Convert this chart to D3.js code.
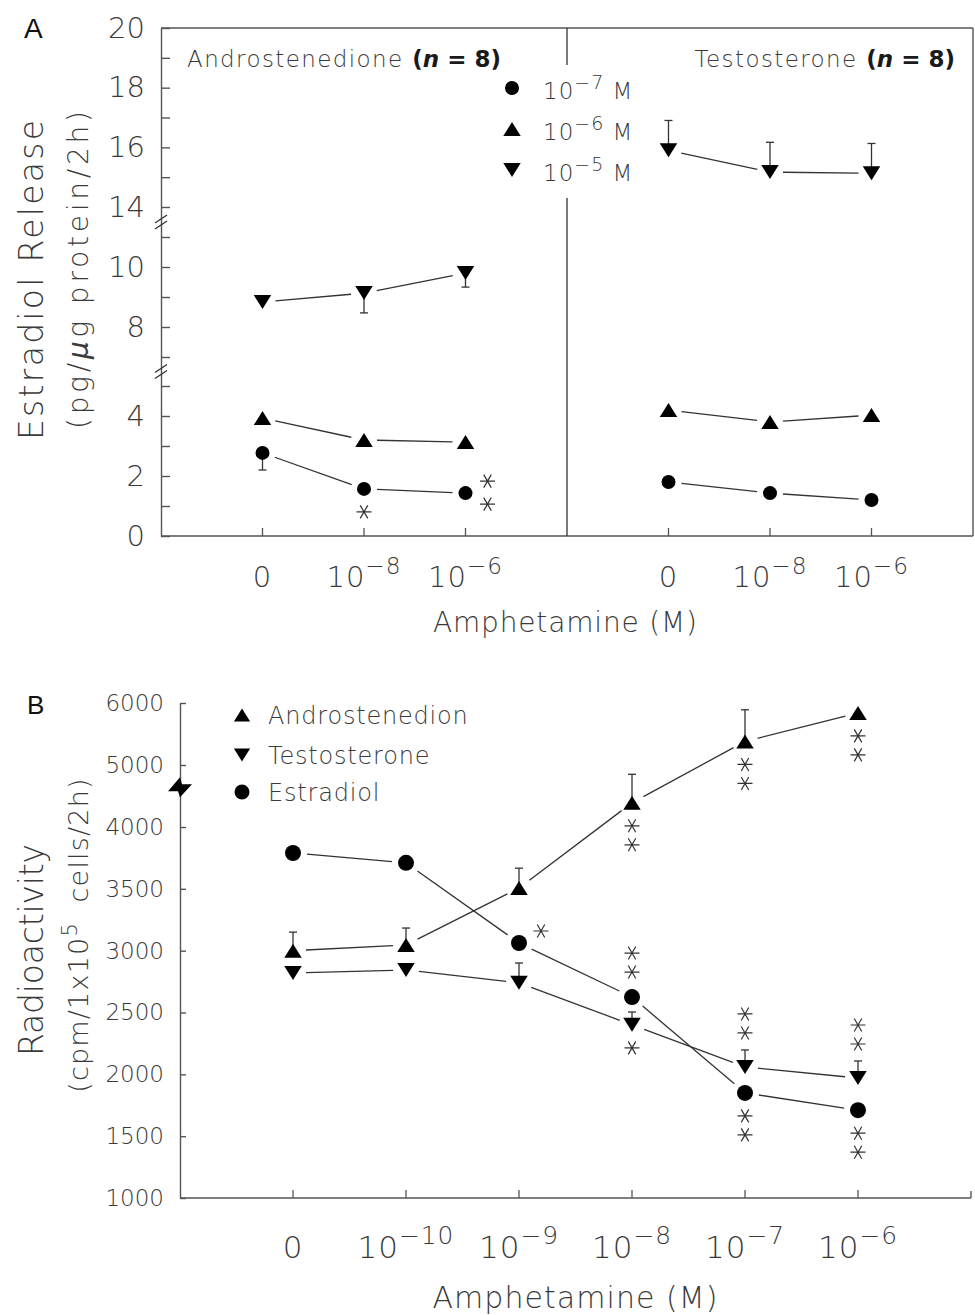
<!DOCTYPE html>
<html>
<head>
<meta charset="utf-8">
<script src="https://d3js.org/d3.v7.min.js"></script>
<style>
  body { margin: 0; background: #fff; }
  svg text { font-family: "DejaVu Sans", sans-serif; font-weight: 200; fill: #3a3a3a; }
</style>
</head>
<body>
<svg id="fig" width="975" height="1315"></svg>
<script>

// ---------- panel A : estradiol release (pg/ug protein/2h) ----------
var ampA = ["0", "-8", "-6"]              // amphetamine, exponent of 10 ("0" = control)
var precursorA = ["Androstenedione", "Testosterone"]
var concA = ["-7", "-6", "-5"]            // precursor, 10^x M
var andro7 = [2.77, 1.57, 1.43]
var andro6 = [3.93, 3.20, 3.13]
var andro5 = [8.83, 9.13, 9.80]
var testo7 = [1.80, 1.43, 1.20]
var testo6 = [4.20, 3.80, 4.03]
var testo5 = [15.90, 15.17, 15.13]
// SEM, negative -> bar drawn downwards
var andro7Err = [-0.57, 0, 0]
var andro6Err = [0, 0, 0]
var andro5Err = [0, -0.66, -0.47]
var testo7Err = [0, 0, 0]
var testo6Err = [0, 0, 0]
var testo5Err = [1.0, 1.0, 1.0]
var yTicksA = [0, 1, 2, 3, 4, 5, 7, 8, 9, 10, 11, 14, 15, 16, 17, 18, 19, 20]
var yLabelsA = [0, 2, 4, 8, 10, 14, 16, 18, 20]
var yBreaksA = [6, 12.5]
var starsA = [
  {panel: 0, conc: "-7", i: 1, n: 1, side: "below"},
  {panel: 0, conc: "-7", i: 2, n: 2, side: "right"}
]

// ---------- panel B : radioactivity (cpm/1x10^5 cells/2h) ----------
var ampB = ["0", "-10", "-9", "-8", "-7", "-6"]
var steroidB = ["Androstenedion", "Testosterone", "Estradiol"]
var androB = [3000, 3046, 3507, 4390, 5380, 5840]
var testoB = [2820, 2844, 2740, 2400, 2060, 1970]
var estraB = [3790, 3710, 3062, 2625, 1850, 1710]
var androBErr = [150, 137, 160, 460, 510, 0]
var testoBErr = [0, 0, 160, 104, 137, 138]
var estraBErr = [0, 0, 0, 0, 0, 0]
var yTicksB = [1000, 1500, 2000, 2500, 3000, 3500, 4000, 5000, 6000]
var yBreakB = 4640
var starsB = [
  {s: 0, i: 3, n: 2, side: "below"},
  {s: 0, i: 4, n: 2, side: "below"},
  {s: 0, i: 5, n: 2, side: "below"},
  {s: 1, i: 3, n: 1, side: "below"},
  {s: 1, i: 4, n: 2, side: "above"},
  {s: 1, i: 5, n: 2, side: "above"},
  {s: 2, i: 2, n: 1, side: "right"},
  {s: 2, i: 3, n: 2, side: "above"},
  {s: 2, i: 4, n: 2, side: "below"},
  {s: 2, i: 5, n: 2, side: "below"}
]

var svg = d3.select("#fig")
var axisCol = "#555"

// marker shapes, centred on their bounding box
function marker(kind, s) {
  if (kind == "circle") return d3.symbol(d3.symbolCircle, Math.PI * s * s)()
  var w = s * 2.5, h = s * 2
  if (kind == "up") return "M0," + (-h/2) + "L" + (w/2) + "," + (h/2) + "L" + (-w/2) + "," + (h/2) + "Z"
  return "M0," + (h/2) + "L" + (w/2) + "," + (-h/2) + "L" + (-w/2) + "," + (-h/2) + "Z"
}

function star(g, x, y) {
  var r = 7.5
  var p = d3.path()
  ;[0, 60, 120].forEach(function(a) {
    var dx = r * Math.cos(a * Math.PI / 180), dy = r * Math.sin(a * Math.PI / 180)
    p.moveTo(x - dx, y - dy); p.lineTo(x + dx, y + dy)
  })
  g.append("path").attr("d", p.toString()).attr("stroke", "#333").attr("stroke-width", 1.2).attr("fill", "none")
}

function drawSeries(g, x, y, vals, errs, kind, s) {
  var pts = vals.map(function(v, i) { return [x(x.domain()[i]), y(v)] })
  // connecting segments, stopped short of the markers
  for (var i = 0; i < pts.length - 1; i++) {
    var a = pts[i], b = pts[i+1]
    var dx = b[0] - a[0], dy = b[1] - a[1], L = Math.hypot(dx, dy), gap = s + 6
    g.append("line")
      .attr("x1", a[0] + dx / L * gap).attr("y1", a[1] + dy / L * gap)
      .attr("x2", b[0] - dx / L * gap).attr("y2", b[1] - dy / L * gap)
      .attr("stroke", "#333").attr("stroke-width", 1.3)
  }
  // error bars
  vals.forEach(function(v, i) {
    if (!errs[i]) return
    var xx = pts[i][0], y0 = pts[i][1], y1 = y(v + errs[i])
    g.append("line").attr("x1", xx).attr("x2", xx).attr("y1", y0).attr("y2", y1)
      .attr("stroke", "#333").attr("stroke-width", 1.3)
    g.append("line").attr("x1", xx - 4).attr("x2", xx + 4).attr("y1", y1).attr("y2", y1)
      .attr("stroke", "#333").attr("stroke-width", 1.3)
  })
  g.selectAll(null).data(pts).enter().append("path")
    .attr("d", marker(kind, s))
    .attr("transform", function(d) { return "translate(" + d[0] + "," + d[1] + ")" })
    .attr("fill", "#000")
  return pts
}

function placeStars(g, pt, top, st) {
  for (var k = 0; k < st.n; k++) {
    if (st.side == "below") star(g, pt[0], pt[1] + 23 + 19 * k)
    else if (st.side == "above") star(g, pt[0], top - 17 - 19 * k)
    else star(g, pt[0] + 22, pt[1] - 12 + 23 * k)
  }
}

function powLabel(g, x, y, e, size) {
  var t = g.append("text").attr("x", x).attr("y", y).attr("text-anchor", "middle")
    .style("font-size", size + "px").style("letter-spacing", "1px")
  if (e == "0") { t.text("0"); return }
  t.append("tspan").text("10")
  t.append("tspan").attr("dy", -size * 0.45).style("font-size", (size * 0.8) + "px").text("\u2212" + e.slice(1))
}

// ================= PANEL A =================
var A = {left: 161, right: 973, mid: 567, top: 28, bottom: 536}
var yA = d3.scaleLinear().domain([0, 5, 7, 11, 14, 20]).range([536, 386, 357, 237, 207, 28])
var xA = precursorA.map(function(p, k) {
  return d3.scalePoint().domain(ampA)
    .range(k == 0 ? [A.left, A.mid] : [A.mid, A.right]).padding(1)
})
var gA = svg.append("g")

var axA = gA.append("g").attr("transform", "translate(" + A.left + ",0)")
  .call(d3.axisLeft(yA).tickValues(yTicksA).tickSizeInner(-9).tickSizeOuter(0).tickPadding(16)
    .tickFormat(function(d) { return yLabelsA.indexOf(d) >= 0 ? d : "" }))
axA.attr("font-family", null).attr("font-size", null)
axA.selectAll("text").style("font-size", "29px").attr("fill", null)
axA.selectAll("line,path").attr("stroke", axisCol).attr("stroke-width", 1.4)

// axis breaks
yBreaksA.forEach(function(b) {
  var yy = yA(b)
  ;[-3, 3].forEach(function(o) {
    gA.append("line").attr("x1", A.left - 6).attr("y1", yy + o + 4).attr("x2", A.left + 6).attr("y2", yy + o - 4)
      .attr("stroke", "#333").attr("stroke-width", 1.3)
  })
})

// frame
gA.append("line").attr("x1", A.left).attr("x2", A.right).attr("y1", A.top).attr("y2", A.top).attr("stroke", axisCol).attr("stroke-width", 1.4)
gA.append("line").attr("x1", A.left).attr("x2", A.right).attr("y1", A.bottom).attr("y2", A.bottom).attr("stroke", axisCol).attr("stroke-width", 1.4)
gA.append("line").attr("x1", A.right).attr("x2", A.right).attr("y1", A.top).attr("y2", A.bottom).attr("stroke", axisCol).attr("stroke-width", 1.4)
gA.append("line").attr("x1", A.mid).attr("x2", A.mid).attr("y1", A.top).attr("y2", 65).attr("stroke", "#333").attr("stroke-width", 1.3)
gA.append("line").attr("x1", A.mid).attr("x2", A.mid).attr("y1", 198).attr("y2", A.bottom).attr("stroke", "#333").attr("stroke-width", 1.3)

// x ticks + labels
xA.forEach(function(x) {
  ampA.forEach(function(a) {
    gA.append("line").attr("x1", x(a)).attr("x2", x(a)).attr("y1", A.bottom).attr("y2", A.bottom - 8)
      .attr("stroke", axisCol).attr("stroke-width", 1.3)
    powLabel(gA, x(a), 587, a, 29)
  })
})

// data
var seriesA = [
  [andro7, andro6, andro5, andro7Err, andro6Err, andro5Err],
  [testo7, testo6, testo5, testo7Err, testo6Err, testo5Err]
]
var kindsA = ["circle", "up", "down"]
var ptsA = seriesA.map(function(S, k) {
  return [0, 1, 2].map(function(c) { return drawSeries(gA, xA[k], yA, S[c], S[c + 3], kindsA[c], 7) })
})
starsA.forEach(function(st) {
  var c = concA.indexOf(st.conc)
  placeStars(gA, ptsA[st.panel][c][st.i], ptsA[st.panel][c][st.i][1] - 7, st)
})

// panel titles
precursorA.forEach(function(p, k) {
  var t = gA.append("text").attr("y", 67).style("font-size", "23px").style("letter-spacing", "1.4px")
  if (k == 0) t.attr("x", 187).attr("text-anchor", "start")
  else t.attr("x", 955).attr("text-anchor", "end")
  t.append("tspan").text(p + (k == 0 ? " " : "  "))
  var b = t.append("tspan").style("font-weight", "bold").style("fill", "#1a1a1a").style("letter-spacing", "0px")
  b.append("tspan").text("(")
  b.append("tspan").style("font-style", "italic").text("n")
  b.append("tspan").text(" = 8)")
})

// legend A
concA.forEach(function(c, i) {
  var yy = [88, 129, 170][i]
  gA.append("path").attr("d", marker(kindsA[i], 7)).attr("transform", "translate(512," + yy + ")").attr("fill", "#000")
  var t = gA.append("text").attr("x", 543).attr("y", yy + 11).style("font-size", "23px").style("letter-spacing", "1px")
  t.append("tspan").text("10")
  t.append("tspan").attr("dy", -10).style("font-size", "19px").text("\u2212" + c.slice(1))
  t.append("tspan").attr("dy", 10).style("font-size", "23px").text(" M")
})

// titles A
gA.append("text").attr("transform", "translate(43,280) rotate(-90)").attr("text-anchor", "middle")
  .attr("textLength", 320).attr("lengthAdjust", "spacing")
  .style("font-size", "33px").text("Estradiol Release")
var ysub = gA.append("text").attr("transform", "translate(88,270) rotate(-90)").attr("text-anchor", "middle")
  .attr("textLength", 318).attr("lengthAdjust", "spacing")
  .style("font-size", "28px")
ysub.append("tspan").text("(pg/")
ysub.append("tspan").style("font-style", "italic").text("\u03bc")
ysub.append("tspan").text("g protein/2h)")
gA.append("text").attr("x", 565).attr("y", 632).attr("text-anchor", "middle")
  .attr("textLength", 264).attr("lengthAdjust", "spacing")
  .style("font-size", "28px").text("Amphetamine (M)")
svg.append("text").attr("x", 24).attr("y", 38).style("font-family", "Liberation Sans, Arial, sans-serif")
  .style("font-weight", "normal").style("fill", "#111").style("font-size", "28px").text("A")

// ================= PANEL B =================
var B = {left: 180, right: 971, top: 703, bottom: 1198}
var yB = d3.scaleLinear().domain([1000, 4000, 6000]).range([1198, 827, 703])
var xB = d3.scalePoint().domain(ampB).range([B.left, B.right]).padding(1)
var gB = svg.append("g")

var axB = gB.append("g").attr("transform", "translate(" + B.left + ",0)")
  .call(d3.axisLeft(yB).tickValues(yTicksB).tickSizeInner(-6).tickSizeOuter(0).tickPadding(16).tickFormat(d3.format("d")))
axB.attr("font-family", null).attr("font-size", null)
axB.selectAll("text").style("font-size", "23px").attr("fill", null)
axB.selectAll("line,path").attr("stroke", axisCol).attr("stroke-width", 1.4)

gB.append("line").attr("x1", B.left).attr("x2", B.right).attr("y1", B.bottom).attr("y2", B.bottom).attr("stroke", axisCol).attr("stroke-width", 1.4)
gB.append("line").attr("x1", B.right).attr("x2", B.right).attr("y1", B.bottom).attr("y2", B.bottom - 7).attr("stroke", axisCol).attr("stroke-width", 1.4)
ampB.forEach(function(a) {
  gB.append("line").attr("x1", xB(a)).attr("x2", xB(a)).attr("y1", B.bottom).attr("y2", B.bottom - 8)
    .attr("stroke", axisCol).attr("stroke-width", 1.3)
  powLabel(gB, xB(a), 1258, a, 31)
})

// axis break
var yb = yB(yBreakB)
gB.append("path").attr("transform", "translate(" + B.left + "," + yb + ")")
  .attr("d", "M-12,4L0,-10L2,-3L12,-3L0,10L-2,4Z").attr("fill", "#000")

var seriesB = [[androB, androBErr, "up"], [testoB, testoBErr, "down"], [estraB, estraBErr, "circle"]]
var ptsB = seriesB.map(function(S) { return drawSeries(gB, xB, yB, S[0], S[1], S[2], S[2] == "circle" ? 8 : 7) })
starsB.forEach(function(st) {
  var S = seriesB[st.s], p = ptsB[st.s][st.i]
  var top = Math.min(p[1] - 8, S[1][st.i] ? yB(S[0][st.i] + S[1][st.i]) : 1e9)
  placeStars(gB, p, top, st)
})

// legend B
steroidB.forEach(function(s, i) {
  var yy = [715, 755, 792][i]
  gB.append("path").attr("d", marker(seriesB[i][2], i == 2 ? 7.5 : 6.5)).attr("transform", "translate(242," + yy + ")").attr("fill", "#000")
  gB.append("text").attr("x", 268).attr("y", yy + 9).style("font-size", "24px").style("letter-spacing", "0.8px").text(s)
})

// titles B
gB.append("text").attr("transform", "translate(43,950) rotate(-90)").attr("text-anchor", "middle")
  .attr("textLength", 212).attr("lengthAdjust", "spacing")
  .style("font-size", "33px").text("Radioactivity")
var ysubB = gB.append("text").attr("transform", "translate(88,935) rotate(-90)").attr("text-anchor", "middle")
  .style("font-size", "27px").style("letter-spacing", "1.2px")
ysubB.append("tspan").text("(cpm/1x10")
ysubB.append("tspan").attr("dy", -11).style("font-size", "21px").text("5")
ysubB.append("tspan").attr("dy", 11).text("\u00a0 cells/2h)")
gB.append("text").attr("x", 575).attr("y", 1308).attr("text-anchor", "middle")
  .attr("textLength", 285).attr("lengthAdjust", "spacing")
  .style("font-size", "30px").text("Amphetamine (M)")
svg.append("text").attr("x", 27).attr("y", 714).style("font-family", "Liberation Sans, Arial, sans-serif")
  .style("font-weight", "normal").style("fill", "#111").style("font-size", "26px").text("B")

</script>
</body>
</html>
